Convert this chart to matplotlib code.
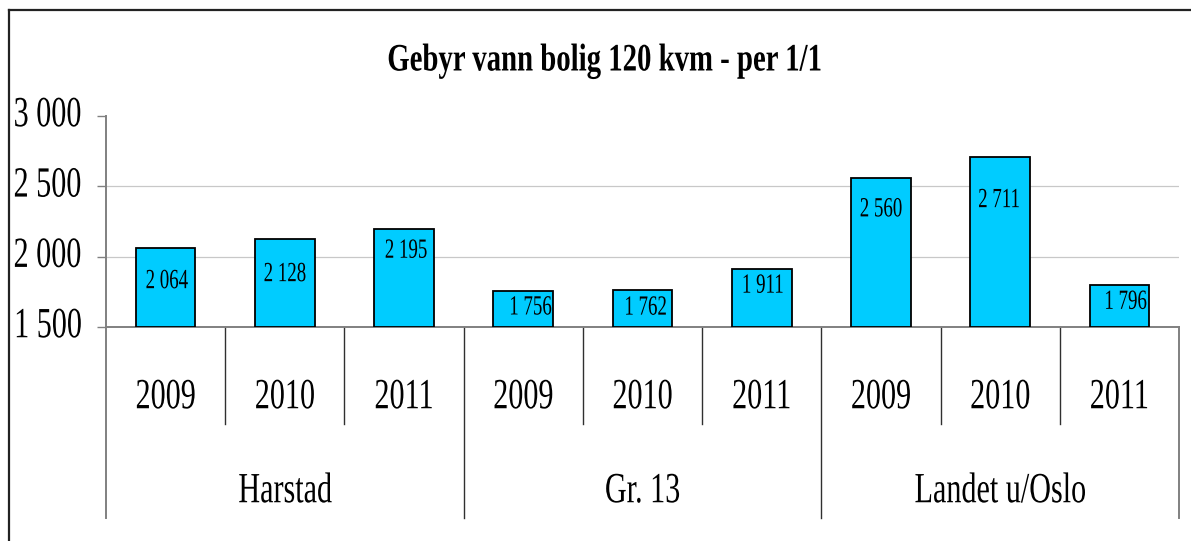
import numpy as np
import matplotlib
matplotlib.use("Agg")
import matplotlib.pyplot as plt
from matplotlib.patheffects import AbstractPathEffect
from matplotlib.transforms import Affine2D
from matplotlib.lines import Line2D
from matplotlib.ticker import FixedLocator

# ---- data ----
title = "Gebyr vann bolig 120 kvm - per 1/1"
groups = ["Harstad", "Gr. 13", "Landet u/Oslo"]
years = ["2009", "2010", "2011"]
fees = [2064, 2128, 2195, 1756, 1762, 1911, 2560, 2711, 1796]
y_ticks = [1500, 2000, 2500, 3000]

# ---- style ----
plt.rcParams["font.family"] = ["Liberation Serif", "DejaVu Serif"]
BAR = "#00CCFF"
AXIS_GRAY = "#808080"
GRID = "#C8C8C8"
SEP = "#303030"

# per-bar placement of the value labels (pixels from bar top / centre)
label_drop = [34, 36, 22, 17, 18, 17, 32, 44, 17]
label_shift = [1, 0, 2, 7, 3, 1, 0, -1, 6]


def thousands(v):
    return f"{int(v):,}".replace(",", "\u00a0")


class Narrow(AbstractPathEffect):
    """Render text glyphs squeezed horizontally about an anchor edge."""

    def __init__(self, sx=0.7, anchor="center"):
        super().__init__()
        self.sx = sx
        self.anchor = anchor

    def draw_path(self, renderer, gc, tpath, affine, rgbFace=None):
        bb = tpath.get_extents(affine)
        if self.anchor == "left":
            x0 = bb.x0
        elif self.anchor == "right":
            x0 = bb.x1
        else:
            x0 = 0.5 * (bb.x0 + bb.x1)
        squeeze = Affine2D().translate(-x0, 0).scale(self.sx, 1.0).translate(x0, 0)
        renderer.draw_path(gc, tpath, affine + squeeze, rgbFace)


W, H = 1191, 541
fig = plt.figure(figsize=(W / 100, H / 100), dpi=100)
fig.patch.set_facecolor("white")

ax_left, ax_right, ax_top, ax_bottom = 106, 1179, 116, 327
ax_w, ax_h = ax_right - ax_left, ax_bottom - ax_top
ax = fig.add_axes([ax_left / W, 1 - ax_bottom / H, ax_w / W, ax_h / H])

ymin, ymax = y_ticks[0], y_ticks[-1]
x = np.arange(len(fees))
heights = [v - ymin for v in fees]
ax.bar(x, heights, bottom=ymin, width=0.5, color=BAR,
       edgecolor="black", linewidth=1.3, zorder=3)

ax.set_xlim(-0.5, len(fees) - 0.5)
ax.set_ylim(ymin, ymax)

# gridlines at the inner ticks
for v in y_ticks[1:-1]:
    ax.axhline(v, color=GRID, linewidth=0.9, zorder=1)

# axes frame
for side in ("top", "right"):
    ax.spines[side].set_visible(False)
for side in ("left", "bottom"):
    ax.spines[side].set_color(AXIS_GRAY)
    ax.spines[side].set_linewidth(1.4)

ax.set_xticks([])
ax.yaxis.set_major_locator(FixedLocator(y_ticks))
ax.tick_params(axis="y", direction="out", length=6.5, width=1.0,
               color=AXIS_GRAY, labelleft=False)

# y tick labels, left-aligned in the margin
yt = ax.get_yaxis_transform()
tick_label_x = (13 - ax_left) / ax_w
for v in y_ticks:
    ax.text(tick_label_x, v, thousands(v), transform=yt, ha="left", va="center",
            fontsize=31, path_effects=[Narrow(0.70, "left")])

# value labels inside the bars
for i, v in enumerate(fees):
    ax.annotate(thousands(v), xy=(i, v),
                xytext=(label_shift[i], -label_drop[i]), textcoords="offset pixels",
                ha="center", va="center", fontsize=20, zorder=4,
                path_effects=[Narrow(0.68)])

# two-level category axis
xt = ax.get_xaxis_transform()
n_years = len(years)
year_sep_depth = -(424 - ax_bottom) / ax_h
group_sep_depth = -(518 - ax_bottom) / ax_h
year_label_y = -(398 - ax_bottom) / ax_h
group_label_y = -(492 - ax_bottom) / ax_h

for b in np.arange(-0.5, len(fees), 1.0):
    k = int(round(b + 0.5))
    outer = k == 0 or k == len(fees)
    is_group = k % n_years == 0
    depth = group_sep_depth if is_group else year_sep_depth
    ax.add_line(Line2D([b, b], [0, depth], transform=xt, clip_on=False,
                       color=AXIS_GRAY if outer else SEP,
                       linewidth=1.4 if outer else 1.0))

for i in range(len(fees)):
    ax.text(i, year_label_y, years[i % n_years], transform=xt,
            ha="center", va="center", fontsize=31,
            path_effects=[Narrow(0.70)])

for g, name in enumerate(groups):
    ax.text(g * n_years + (n_years - 1) / 2, group_label_y, name, transform=xt,
            ha="center", va="center", fontsize=31,
            path_effects=[Narrow(0.70)])

# title
fig.text(605 / W, 1 - 61 / H, title, ha="center", va="center",
         fontsize=28, fontweight="bold", path_effects=[Narrow(0.74)])

# chart-area border (left and top edges)
fig.add_artist(Line2D([9 / W, 9 / W], [0, 1 - 10 / H], color="#222222", linewidth=1.6))
fig.add_artist(Line2D([9 / W, 1], [1 - 10 / H, 1 - 10 / H], color="#222222", linewidth=1.6))

fig.savefig("out.png", dpi=100, facecolor="white")
